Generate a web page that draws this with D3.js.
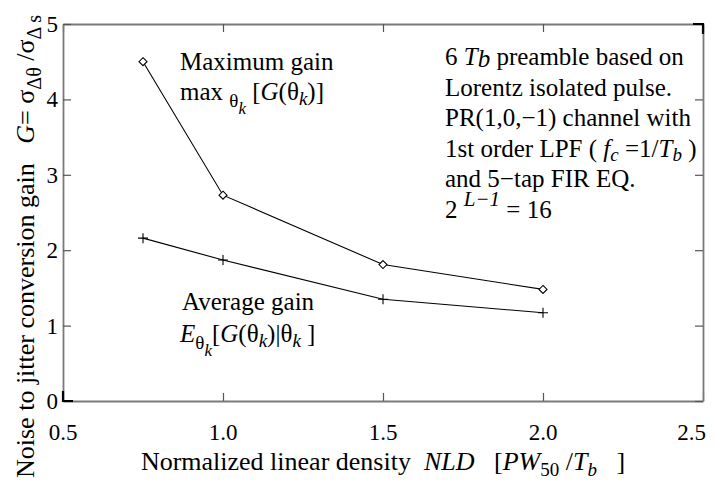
<!DOCTYPE html>
<html>
<head>
<meta charset="utf-8">
<script src="https://cdn.jsdelivr.net/npm/d3@7"></script>
<style>
  html, body { margin: 0; padding: 0; background: #fff; }
  svg { display: block; }
</style>
</head>
<body>
<svg id="chart" width="716" height="482"></svg>
<script>
// Normalized linear density (x) and conversion gains (y)
const nld = [0.75, 1.0, 1.5, 2.0];
const maxGain = [4.50, 2.73, 1.81, 1.48];
const avgGain = [2.16, 1.87, 1.35, 1.17];
const xTicks = [0.5, 1.0, 1.5, 2.0, 2.5];
const xTickLabels = ["0.5", "1.0", "1.5", "2.0", "2.5"];
const yTicks = [0, 1, 2, 3, 4, 5];
const yTickLabels = ["0", "1", "2", "3", "4", "5"];

const SERIF = "Liberation Serif";
const svg = d3.select("#chart").style("font-family", SERIF);
const W = 716;
const plot = { left: 63, right: 703, top: 24, bottom: 401 };
const FS = 25;       // annotation text
const TICK_FS = 23;  // tick labels
const TITLE_FS = 26; // axis titles

const x = d3.scaleLinear().domain([0.5, 2.5]).range([plot.left, plot.right]);
const y = d3.scaleLinear().domain([0, 5]).range([plot.bottom, plot.top]);

// Rich text: parts are {t, it, off, fs}; off is the baseline offset in px (positive = down)
function rich(g, px, py, parts, opts = {}) {
  const t = g.append("text").attr("x", px).attr("y", py)
    .style("font-family", SERIF).style("white-space", "pre")
    .attr("font-size", opts.fs || FS).attr("fill", "#000");
  if (opts.anchor) t.attr("text-anchor", opts.anchor);
  if (opts.transform) t.attr("transform", opts.transform);
  let prev = 0;
  parts.forEach(p => {
    const off = p.off || 0;
    const s = t.append("tspan").text(p.t).attr("dy", off - prev);
    if (p.it) s.attr("font-style", "italic");
    if (p.fs) s.attr("font-size", p.fs);
    prev = off;
  });
  return t;
}

// Box axes with inward ticks on all four sides
const tickLen = 8;
const axisColor = "#7a7a7a";
const axB = svg.append("g").attr("transform", `translate(0,${plot.bottom})`)
  .call(d3.axisBottom(x).tickValues(xTicks).tickSizeInner(-tickLen).tickSizeOuter(0).tickFormat(""));
const axT = svg.append("g").attr("transform", `translate(0,${plot.top})`)
  .call(d3.axisTop(x).tickValues(xTicks).tickSizeInner(-tickLen).tickSizeOuter(0).tickFormat(""));
const axL = svg.append("g").attr("transform", `translate(${plot.left},0)`)
  .call(d3.axisLeft(y).tickValues(yTicks).tickSizeInner(-tickLen).tickSizeOuter(0).tickFormat(""));
const axR = svg.append("g").attr("transform", `translate(${plot.right},0)`)
  .call(d3.axisRight(y).tickValues(yTicks).tickSizeInner(-tickLen).tickSizeOuter(0).tickFormat(""));
[axB, axT, axL, axR].forEach(a => {
  a.select(".domain").attr("stroke", axisColor).attr("stroke-width", 1.8);
  a.selectAll(".tick line").attr("stroke", "#555").attr("stroke-width", 1.2);
});

// darker corner pieces of the frame
const corners = svg.append("g").attr("stroke", "#000").attr("stroke-width", 2.2).attr("fill", "none");
corners.append("path").attr("d", `M${plot.left},${plot.bottom - 10}V${plot.bottom}H${plot.left + 10}`);
corners.append("path").attr("d", `M${plot.right - 10},${plot.top}H${plot.right}V${plot.top + 10}`);

// Tick labels (the last x label is kept inside the figure)
const xl = svg.append("g").selectAll("text").data(xTicks).join("text")
  .style("font-family", SERIF)
  .attr("x", d => x(d)).attr("y", plot.bottom + 39)
  .attr("text-anchor", "middle").attr("font-size", TICK_FS)
  .text((d, i) => xTickLabels[i]);
xl.each(function (d) {
  const half = this.getComputedTextLength() / 2;
  const cx = Math.min(x(d), W - 10 - half);
  d3.select(this).attr("x", cx);
});
svg.append("g").selectAll("text").data(yTicks).join("text")
  .style("font-family", SERIF)
  .attr("x", plot.left - 5).attr("y", d => y(d) + 8)
  .attr("text-anchor", "end").attr("font-size", TICK_FS)
  .text((d, i) => yTickLabels[i]);

// Axis titles
rich(svg, (plot.left + plot.right) / 2, 470, [
  { t: "Normalized linear density  " },
  { t: "NLD", it: true },
  { t: "   [" },
  { t: "PW", it: true },
  { t: "50", off: 6, fs: 19 },
  { t: " /", off: 0 },
  { t: "T", it: true },
  { t: "b", it: true, off: 6, fs: 19 },
  { t: "   ]", off: 0 }
], { fs: TITLE_FS, anchor: "middle" });

rich(svg, 0, 0, [
  { t: "Noise to jitter conversion gain   " },
  { t: "G", it: true },
  { t: "= σ" },
  { t: "Δθ", off: 7, fs: 20 },
  { t: " /σ", off: 0 },
  { t: "Δ s", off: 7, fs: 20 }
], { fs: TITLE_FS, transform: "translate(34,478) rotate(-90)" });

// Series lines and markers
const line = d3.line().x((d, i) => x(nld[i])).y(d => y(d));
svg.append("path").datum(maxGain).attr("d", line)
  .attr("fill", "none").attr("stroke", "#000").attr("stroke-width", 1.1);
svg.append("path").datum(avgGain).attr("d", line)
  .attr("fill", "none").attr("stroke", "#000").attr("stroke-width", 1.1);

const dm = 4;
svg.append("g").selectAll("path").data(maxGain).join("path")
  .attr("transform", (d, i) => `translate(${x(nld[i])},${y(d)})`)
  .attr("d", `M0,${-dm}L${dm},0L0,${dm}L${-dm},0Z`)
  .attr("fill", "#fff").attr("stroke", "#000").attr("stroke-width", 1.1);
const pm = 5;
svg.append("g").selectAll("path").data(avgGain).join("path")
  .attr("transform", (d, i) => `translate(${x(nld[i])},${y(d)})`)
  .attr("d", `M${-pm},0H${pm}M0,${-pm}V${pm}`)
  .attr("fill", "none").attr("stroke", "#000").attr("stroke-width", 1.1);

// Annotations
rich(svg, 180, 70, [{ t: "Maximum gain" }]);
rich(svg, 180, 100, [
  { t: "max " },
  { t: "θ", off: 7, fs: 19 },
  { t: "k", it: true, off: 14, fs: 17 },
  { t: " [", off: 0 },
  { t: "G", it: true },
  { t: "(θ" },
  { t: "k", it: true, off: 5, fs: 19 },
  { t: ")]", off: 0 }
]);

rich(svg, 182, 310, [{ t: "Average gain" }]);
rich(svg, 180, 342, [
  { t: "E", it: true },
  { t: "θ", off: 7, fs: 19 },
  { t: "k", it: true, off: 14, fs: 17 },
  { t: "[", off: 0 },
  { t: "G", it: true },
  { t: "(θ" },
  { t: "k", it: true, off: 5, fs: 19 },
  { t: ")|θ", off: 0 },
  { t: "k", it: true, off: 5, fs: 19 },
  { t: " ]", off: 0 }
]);

const bx = 445;
rich(svg, bx, 65, [
  { t: "6 " }, { t: "T", it: true }, { t: "b", it: true, off: 2 },
  { t: " preamble based on", off: 0 }
]);
rich(svg, bx, 95.5, [{ t: "Lorentz isolated pulse." }]);
rich(svg, bx, 126, [{ t: "PR(1,0,−1) channel with" }]);
rich(svg, bx, 156.5, [
  { t: "1st order LPF ( " }, { t: "f", it: true }, { t: "c", it: true, off: 4, fs: 19 },
  { t: " =1/", off: 0 }, { t: "T", it: true }, { t: "b", it: true, off: 4, fs: 19 },
  { t: " )", off: 0 }
]);
rich(svg, bx, 187, [{ t: "and 5−tap FIR EQ." }]);
rich(svg, bx, 218, [
  { t: "2 " }, { t: "L−1", it: true, off: -12, fs: 21 }, { t: " = 16", off: 0 }
]);
</script>
</body>
</html>
